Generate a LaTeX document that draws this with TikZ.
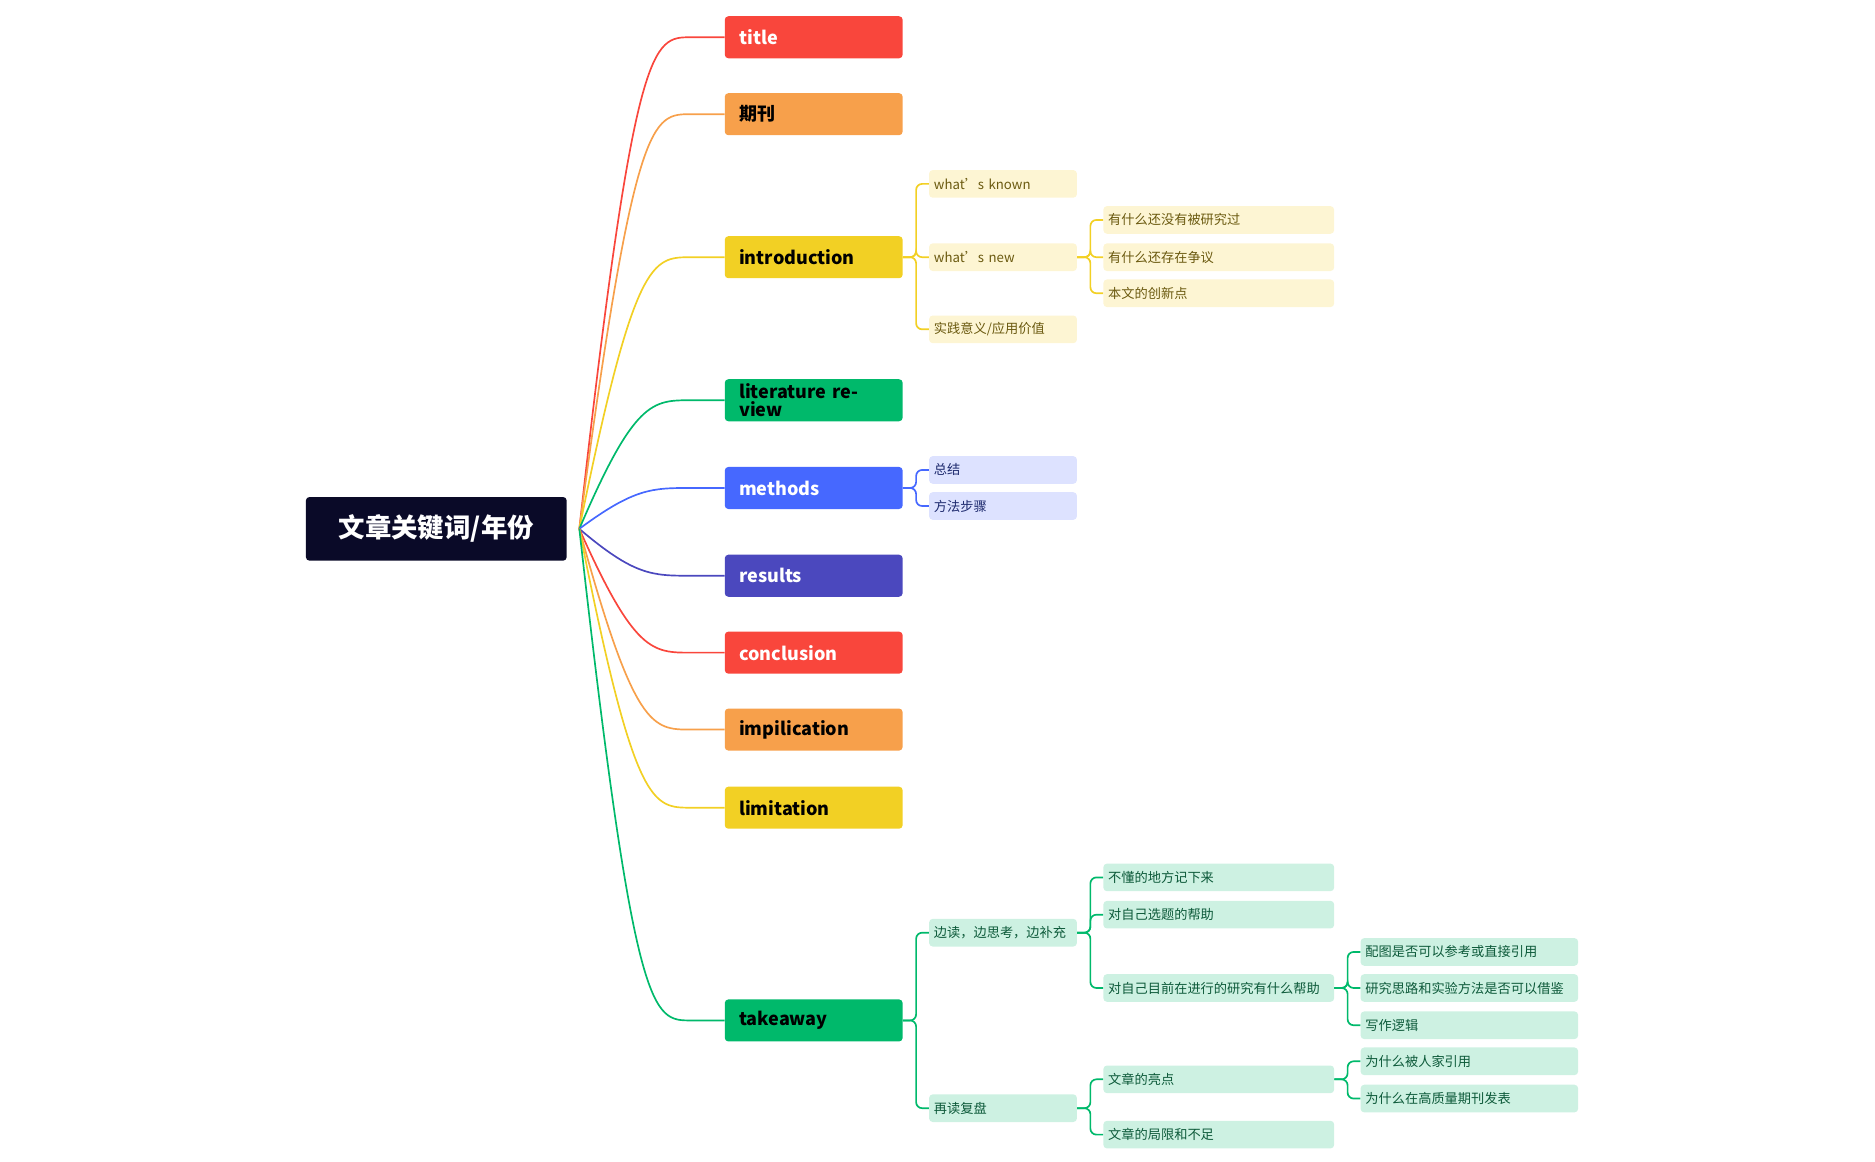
\documentclass[tikz,border=0pt]{standalone}
\usepackage{fontspec}
\setmainfont{Noto Sans CJK SC}
\usetikzlibrary{calc}
\definecolor{cred}{HTML}{F9463C}
\definecolor{corange}{HTML}{F7A04B}
\definecolor{cyellow}{HTML}{F2D024}
\definecolor{cgreen}{HTML}{00B96B}
\definecolor{cblue}{HTML}{4668FF}
\definecolor{cindigo}{HTML}{4B48BE}
\definecolor{croot}{HTML}{0A0A28}
\definecolor{lyellow}{HTML}{FDF5D3}
\definecolor{tyellow}{HTML}{6B5A10}
\definecolor{lgreen}{HTML}{CDF1E2}
\definecolor{tgreen}{HTML}{0D5A3A}
\definecolor{lblue}{HTML}{DDE2FF}
\definecolor{tblue}{HTML}{1E2A6E}
\begin{document}
\begin{tikzpicture}[x=1pt,y=-1pt,
  lone/.style={rounded corners=3pt,minimum width=148pt,minimum height=35pt,text width=124pt,align=left,inner xsep=12pt,font=\fontsize{15}{15}\selectfont\bfseries},
  ltwo/.style={rounded corners=3pt,minimum width=123pt,minimum height=23pt,text width=115pt,align=left,inner xsep=4pt,font=\fontsize{11}{11}\selectfont},
  lthree/.style={ltwo,minimum width=192pt,text width=184pt},
  lfour/.style={ltwo,minimum width=181pt,text width=173pt},
  ye/.style={fill=lyellow,text=tyellow},
  gr/.style={fill=lgreen,text=tgreen},
  bl/.style={fill=lblue,text=tblue},
  br/.style={line width=1.4pt,rounded corners=5pt}]
\useasboundingbox (0,0) rectangle (1560,966);
\node[fill=croot,text=white,rounded corners=3pt,minimum width=217pt,minimum height=53pt,font=\fontsize{22}{22}\selectfont\bfseries] (root) at (363,440) {文章关键词/年份};
\coordinate (rs) at (482,440);
\node[lone,fill=cred,text=white] (title) at (677,31) {title};
\node[lone,fill=corange] (qk) at (677,95) {期刊};
\node[lone,fill=cyellow] (intro) at (677,214) {introduction};
\node[lone,fill=cgreen] (lit) at (677,333) {literature review};
\node[lone,fill=cblue,text=white] (meth) at (677,406) {methods};
\node[lone,fill=cindigo,text=white] (res) at (677,479) {results};
\node[lone,fill=cred,text=white] (conc) at (677,543) {conclusion};
\node[lone,fill=corange] (imp) at (677,607) {impilication};
\node[lone,fill=cyellow] (lim) at (677,672) {limitation};
\node[lone,fill=cgreen] (take) at (677,849) {takeaway};
\foreach \n/\c in {title/cred,qk/corange,intro/cyellow,lit/cgreen,meth/cblue,res/cindigo,conc/cred,imp/corange,lim/cyellow,take/cgreen}{
  \draw[\c,line width=1.4pt] (rs) .. controls ($(\n.west)+(-75,0)$) and ($(\n.west)+(-60,0)$) .. ($(\n.west)+(-28,0)$) -- (\n.west);
}
% introduction
\node[ltwo,ye] (wk) at (834.5,153) {what's known};
\node[ltwo,ye] (wn) at (834.5,214) {what's new};
\node[ltwo,ye] (sj) at (834.5,274) {实践意义/应用价值};
\node[lthree,ye] (i1) at (1014,183) {有什么还没有被研究过};
\node[lthree,ye] (i2) at (1014,214) {有什么还存在争议};
\node[lthree,ye] (i3) at (1014,244) {本文的创新点};
\foreach \p/\c in {intro/wk,intro/wn,intro/sj,wn/i1,wn/i2,wn/i3}
  \draw[br,cyellow] (\p.east) -- ++(11,0) |- (\c.west);
% methods
\node[ltwo,bl] (zj) at (834.5,391) {总结};
\node[ltwo,bl] (ff) at (834.5,421) {方法步骤};
\foreach \c in {zj,ff}
  \draw[br,cblue] (meth.east) -- ++(11,0) |- (\c.west);
% takeaway
\node[ltwo,gr] (bd) at (834.5,776) {边读，边思考，边补充};
\node[ltwo,gr] (zd) at (834.5,922) {再读复盘};
\node[lthree,gr] (t1) at (1014,730) {不懂的地方记下来};
\node[lthree,gr] (t2) at (1014,761) {对自己选题的帮助};
\node[lthree,gr] (t3) at (1014,822) {对自己目前在进行的研究有什么帮助};
\node[lthree,gr] (t4) at (1014,898) {文章的亮点};
\node[lthree,gr] (t5) at (1014,944) {文章的局限和不足};
\node[lfour,gr] (f1) at (1222.5,792) {配图是否可以参考或直接引用};
\node[lfour,gr] (f2) at (1222.5,822) {研究思路和实验方法是否可以借鉴};
\node[lfour,gr] (f3) at (1222.5,853) {写作逻辑};
\node[lfour,gr] (f4) at (1222.5,883) {为什么被人家引用};
\node[lfour,gr] (f5) at (1222.5,914) {为什么在高质量期刊发表};
\foreach \p/\c in {take/bd,take/zd,bd/t1,bd/t2,bd/t3,zd/t4,zd/t5,t3/f1,t3/f2,t3/f3,t4/f4,t4/f5}
  \draw[br,cgreen] (\p.east) -- ++(11,0) |- (\c.west);
\end{tikzpicture}
\end{document}
